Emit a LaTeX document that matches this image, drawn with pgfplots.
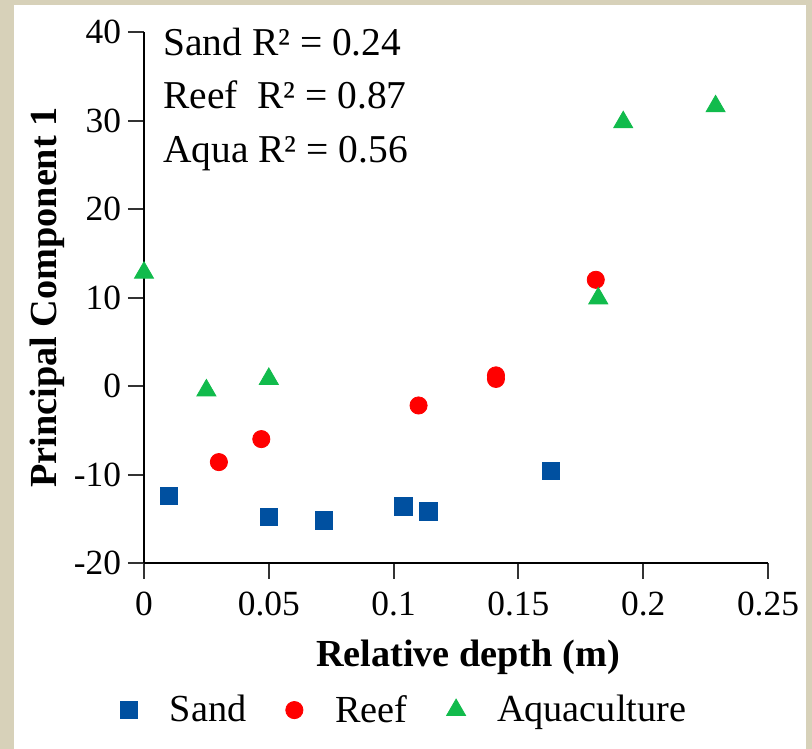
\documentclass[border=0pt]{standalone}
\usepackage{fontspec}
\setmainfont{Liberation Serif}
\usepackage{pgfplots}
\pgfplotsset{compat=1.18}
\definecolor{sandblue}{RGB}{0,80,160}
\definecolor{reefred}{RGB}{255,0,0}
\definecolor{aquagreen}{RGB}{17,187,76}
\definecolor{framebeige}{RGB}{215,209,185}
\begin{document}
\begin{tikzpicture}
\useasboundingbox (0,0) rectangle (406bp,374.5bp);
\fill[framebeige] (0,0) rectangle (406bp,374.5bp);
\fill[white] (7bp,0) rectangle (403bp,372bp);
\begin{axis}[
  at={(72bp,93bp)}, anchor=south west,
  scale only axis, width=312bp, height=265.5bp,
  xmin=0, xmax=0.25, ymin=-20, ymax=40,
  clip=false,
  axis x line=bottom, axis y line=left,
  axis line style={-, line width=1bp, black},
  every tick/.style={line width=1bp, black!80},
  tick align=outside, major tick length=8bp,
  xtick={0,0.05,0.1,0.15,0.2,0.25},
  xticklabels={0,0.05,0.1,0.15,0.2,0.25},
  ytick={-20,-10,0,10,20,30,40},
  yticklabels={-20,-10,0,10,20,30,40},
  ticklabel style={font=\fontsize{17.75}{20}\selectfont},
  xticklabel style={yshift=-3bp},
  xlabel={\textbf{Relative depth (m)}},
  ylabel={\textbf{Principal Component 1}},
  label style={font=\fontsize{19.2}{22}\selectfont},
  xlabel style={at={(axis description cs:0.5192,0)}, anchor=center, yshift=-47bp},
  ylabel style={at={(axis description cs:-0.1554,0.5)}, anchor=center, rotate=0},
  legend style={at={(axis description cs:0.4167,-0.277)}, anchor=center,
    draw=none, fill=none, legend columns=3,
    font=\fontsize{19.2}{22}\selectfont,
    nodes={inner sep=1bp},
    /tikz/every even column/.append style={column sep=18.5bp}},
  legend cell align=left,
  legend image code/.code={\path[draw=none,fill=none] (-4.5bp,0bp) -- (19.5bp,0bp); \draw[#1] plot[only marks] coordinates {(0bp,0bp)};},
]
\addplot[only marks, mark=square*, mark size=4.4bp, color=sandblue] coordinates {
(0.010,-12.4) (0.050,-14.8) (0.072,-15.2) (0.104,-13.6) (0.114,-14.2) (0.163,-9.6)
};
\addlegendentry{Sand}
\addplot[only marks, mark=*, mark size=4.3bp, color=reefred] coordinates {
(0.030,-8.6) (0.047,-6.0) (0.110,-2.2) (0.141,1.2) (0.141,0.8) (0.181,12.0)
};
\addlegendentry{Reef}
\addplot[only marks, mark=triangle*, mark size=5.5bp, color=aquagreen] coordinates {
(0.000,12.8) (0.025,-0.5) (0.050,0.8) (0.182,9.9) (0.192,29.8) (0.229,31.6)
};
\addlegendentry{Aquaculture}
\node[anchor=base west, inner sep=0pt, font=\fontsize{19.8}{22}\selectfont] at (axis description cs:0.0304,0.955) {Sand R² = 0.24};
\node[anchor=base west, inner sep=0pt, font=\fontsize{19.8}{22}\selectfont] at (axis description cs:0.0304,0.855) {Reef\ \ R² = 0.87};
\node[anchor=base west, inner sep=0pt, font=\fontsize{19.8}{22}\selectfont] at (axis description cs:0.0304,0.755) {Aqua R² = 0.56};
\end{axis}
\end{tikzpicture}
\end{document}
